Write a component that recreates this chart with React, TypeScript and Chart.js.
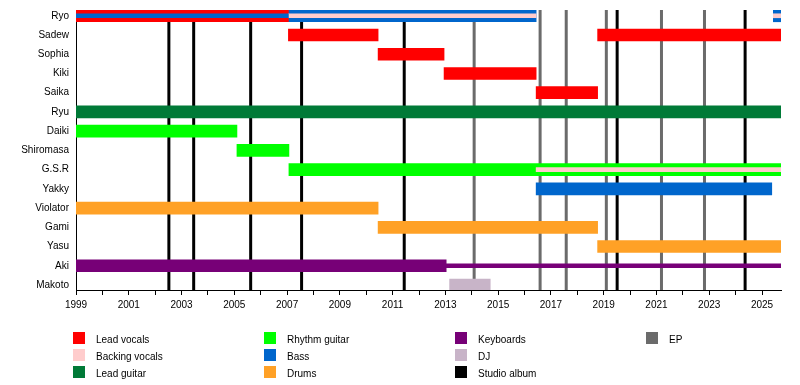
import { useEffect, useRef } from "react";
import { Chart, registerables } from "chart.js";

Chart.register(...registerables);

type Span = [string, number, number];

const members = [
  "Ryo", "Sadew", "Sophia", "Kiki", "Saika", "Ryu", "Daiki", "Shiromasa",
  "G.S.R", "Yakky", "Violator", "Gami", "Yasu", "Aki", "Makoto",
];

const yearTicks = [
  1999, 2000, 2001, 2002, 2003, 2004, 2005, 2006, 2007, 2008, 2009, 2010, 2011,
  2012, 2013, 2014, 2015, 2016, 2017, 2018, 2019, 2020, 2021, 2022, 2023, 2024, 2025,
];
const labeledYears = [1999, 2001, 2003, 2005, 2007, 2009, 2011, 2013, 2015, 2017, 2019, 2021, 2023, 2025];

const START = 1999;
const END = 2025.72;

const leadVocals: Span[] = [
  ["Ryo", 1999, 2007.05],
  ["Sadew", 2007.05, 2010.45],
  ["Sophia", 2010.45, 2012.95],
  ["Kiki", 2012.95, 2016.44],
  ["Saika", 2016.44, 2018.77],
  ["Sadew", 2018.77, 2025.72],
];
const backingVocals: Span[] = [
  ["Ryo", 2007.05, 2016.44],
  ["Ryo", 2025.43, 2025.72],
  ["G.S.R", 2016.44, 2025.72],
];
const leadGuitar: Span[] = [["Ryu", 1999, 2025.72]];
const rhythmGuitar: Span[] = [
  ["Daiki", 1999, 2005.1],
  ["Shiromasa", 2005.1, 2007.07],
  ["G.S.R", 2007.07, 2025.72],
];
const bass: Span[] = [
  ["Ryo", 2007.05, 2016.44],
  ["Ryo", 2025.43, 2025.72],
  ["Yakky", 2016.44, 2025.37],
];
const bassInner: Span[] = [["Ryo", 1999, 2007.05]];
const drums: Span[] = [
  ["Violator", 1999, 2010.45],
  ["Gami", 2010.45, 2018.77],
  ["Yasu", 2018.77, 2025.72],
];
const keyboards: Span[] = [["Aki", 1999, 2013.03]];
const keyboardsThin: Span[] = [["Aki", 2013.03, 2025.72]];
const dj: Span[] = [["Makoto", 2013.16, 2014.7]];

const studioAlbums = [2002.52, 2003.46, 2005.62, 2007.55, 2011.44, 2019.51, 2024.36];
const eps = [2014.09, 2016.59, 2017.58, 2019.1, 2021.19, 2022.82];

const C = {
  leadVocals: "#FF0000",
  backingVocals: "#FFCCCC",
  leadGuitar: "#007A37",
  rhythmGuitar: "#00FF00",
  bass: "#0066CC",
  drums: "#FFA126",
  keyboards: "#770077",
  dj: "#C8B4C8",
  studio: "#000000",
  ep: "#6B6B6B",
};

const legendCols: [string, string][][] = [
  [["Lead vocals", C.leadVocals], ["Backing vocals", C.backingVocals], ["Lead guitar", C.leadGuitar]],
  [["Rhythm guitar", C.rhythmGuitar], ["Bass", C.bass], ["Drums", C.drums]],
  [["Keyboards", C.keyboards], ["DJ", C.dj], ["Studio album", C.studio]],
  [["EP", C.ep]],
];

const FONT = "'Liberation Sans', Arial, sans-serif";

function toData(spans: Span[]) {
  return spans.map(([m, a, b]) => ({ x: [a, b], y: members.indexOf(m) }));
}

function ds(label: string, spans: Span[], color: string, thickness: number, order: number) {
  return {
    label,
    data: toData(spans),
    backgroundColor: color,
    borderWidth: 0,
    barThickness: thickness,
    grouped: false,
    order,
    clip: 0,
  } as any;
}

const linesPlugin = {
  id: "releaseLines",
  beforeDatasetsDraw(chart: any) {
    const { ctx, chartArea, scales } = chart;
    const draw = (vals: number[], color: string) => {
      ctx.save();
      ctx.strokeStyle = color;
      ctx.lineWidth = 3;
      vals.forEach((v) => {
        const x = scales.x.getPixelForValue(v);
        ctx.beginPath();
        ctx.moveTo(x, chartArea.top);
        ctx.lineTo(x, chartArea.bottom);
        ctx.stroke();
      });
      ctx.restore();
    };
    draw(eps, C.ep);
    draw(studioAlbums, C.studio);
  },
};

export default function App() {
  const ref = useRef<HTMLCanvasElement>(null);

  useEffect(() => {
    if (!ref.current) return;
    const chart = new Chart(ref.current, {
      type: "bar",
      data: {
        datasets: [
          ds("Bass (inner)", bassInner, C.bass, 4, 0),
          ds("Backing vocals", backingVocals, C.backingVocals, 4, 0),
          ds("Keyboards (thin)", keyboardsThin, C.keyboards, 4, 0),
          ds("Lead vocals", leadVocals, C.leadVocals, 12, 1),
          ds("Bass", bass, C.bass, 12, 1),
          ds("Lead guitar", leadGuitar, C.leadGuitar, 12, 1),
          ds("Rhythm guitar", rhythmGuitar, C.rhythmGuitar, 12, 1),
          ds("Drums", drums, C.drums, 12, 1),
          ds("Keyboards", keyboards, C.keyboards, 12, 1),
          ds("DJ", dj, C.dj, 12, 1),
        ],
      },
      options: {
        indexAxis: "y",
        responsive: false,
        animation: false,
        layout: { padding: { left: 0, top: 10, right: 19, bottom: 75 } },
        plugins: { legend: { display: false }, tooltip: { enabled: false } },
        scales: {
          x: {
            type: "linear",
            min: START,
            max: END,
            offset: false,
            afterBuildTicks: (axis: any) => {
              axis.ticks = yearTicks.map((v) => ({ value: v }));
            },
            afterFit: (axis: any) => {
              axis.height = 20;
              axis.paddingLeft = 0;
              axis.paddingRight = 0;
            },
            ticks: {
              autoSkip: false,
              maxRotation: 0,
              padding: 4,
              color: "#000",
              font: { family: FONT, size: 10 },
              callback: (v: any) => (labeledYears.includes(Number(v)) ? String(v) : ""),
            },
            grid: { drawOnChartArea: false, drawTicks: true, tickLength: 5, color: "#000", lineWidth: 1, offset: false },
            border: { display: true, color: "#000", width: 1 },
          },
          y: {
            type: "linear",
            reverse: true,
            min: -0.3,
            max: 14.26,
            offset: false,
            afterBuildTicks: (axis: any) => {
              axis.ticks = members.map((_, i) => ({ value: i }));
            },
            afterFit: (axis: any) => {
              axis.width = 76;
              axis.paddingTop = 0;
              axis.paddingBottom = 0;
            },
            ticks: {
              autoSkip: false,
              padding: 7,
              color: "#000",
              font: { family: FONT, size: 10 },
              callback: (v: any) => members[Number(v)] ?? "",
            },
            grid: { display: false, drawTicks: false, tickLength: 0, offset: false },
            border: { display: true, color: "#000", width: 1 },
          },
        },
      } as any,
      plugins: [linesPlugin],
    });
    return () => chart.destroy();
  }, []);

  return (
    <div style={{ position: "absolute", left: 0, top: 0, width: 800, height: 385, background: "#fff", fontFamily: FONT }}>
      <canvas ref={ref} width={800} height={385} style={{ position: "absolute", left: 0, top: 0, width: 800, height: 385 }} />
      {legendCols.map((col, ci) =>
        col.map(([label, color], ri) => (
          <div key={label} style={{ position: "absolute", left: 73 + ci * 191, top: 332 + ri * 17, height: 12 }}>
            <div style={{ position: "absolute", left: 0, top: 0, width: 12, height: 12, background: color }} />
            <div style={{ position: "absolute", left: 23, top: 2, fontSize: 10, lineHeight: "12px", whiteSpace: "nowrap", color: "#000" }}>
              {label}
            </div>
          </div>
        ))
      )}
    </div>
  );
}
